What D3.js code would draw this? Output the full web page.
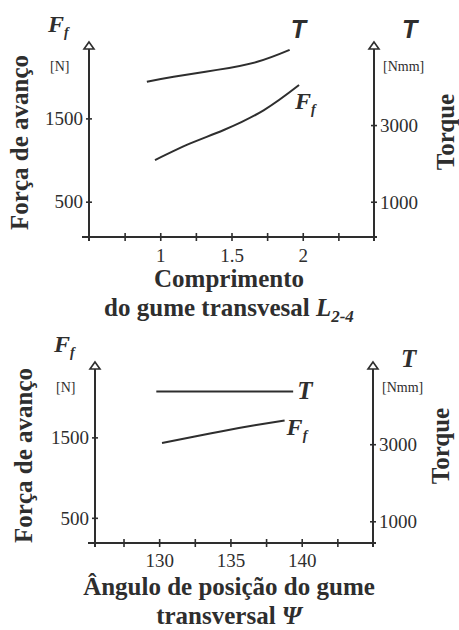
<!DOCTYPE html>
<html>
<head>
  <meta charset="utf-8">
  <script src="https://cdn.jsdelivr.net/npm/d3@7"></script>
  <style type="text/css">
    body { margin: 0; background: #fff; }
    svg { display: block; }
    text { font-family: "Liberation Serif", "Times New Roman", serif; }
    .tick text { font-size: 19px; fill: #2e2e2e; font-family: "Liberation Serif", "Times New Roman", serif; }
    .title { font-weight: bold; font-size: 25px; fill: #2e2e2e; }
    .unit { font-size: 14px; fill: #2e2e2e; }
    .sym { font-weight: bold; font-style: italic; fill: #2e2e2e; }
  </style>
</head>
<body>
<script type="text/javascript">

// panel 1 - comprimento do gume transversal
const lengthTicks = [1, 1.5, 2];
const lengthMinor = [0.75, 1.25, 1.75, 2.25];
const lengthT_x = [0.906, 1.094, 1.399, 1.681, 1.908];
const lengthT_y = [4130, 4260, 4440, 4650, 4960];
const lengthF_x = [0.963, 1.211, 1.446, 1.728, 1.974];
const lengthF_y = [1000, 1200, 1360, 1600, 1900];

// panel 2 - angulo de posicao
const angleTicks = [130, 135, 140];
const angleMinor = [127.5, 132.5, 137.5, 142.5];
const angleT_x = [129.8, 139.4];
const angleT_y = [4370, 4370];
const angleF_x = [130.2, 132.5, 134.5, 136.7, 138.8];
const angleF_y = [1430, 1510, 1580, 1650, 1710];

const forceTicks = [500, 1500];
const torqueTicks = [1000, 3000];

const ink = '#2e2e2e';
const svg = d3.select('body').append('svg')
  .attr('width', 459)
  .attr('height', 630);

function drawPanel(cfg) {
  const x = d3.scaleLinear().domain(cfg.xDomain).range([cfg.left, cfg.right]);
  const yF = d3.scaleLinear().domain(cfg.forceDomain).range([cfg.bottom, cfg.top]);
  const yT = d3.scaleLinear().domain(cfg.torqueDomain).range([cfg.bottom, cfg.top]);
  const g = svg.append('g');
  const fmt = d3.format('');

  // x axis: ticks crossing the line, labels only on the major ones
  const xa = g.append('g')
    .attr('transform', `translate(0,${cfg.bottom})`)
    .call(d3.axisBottom(x)
      .tickValues(cfg.xTicks.concat(cfg.xMinor))
      .tickFormat(d => cfg.xTicks.includes(d) ? fmt(d) : ''));
  xa.select('.domain').remove();
  xa.selectAll('.tick line').attr('y1', -4).attr('y2', 4).attr('stroke', ink).attr('stroke-width', 1.6);
  xa.selectAll('.tick text').attr('y', cfg.xLabelDy).attr('dy', 0);
  g.append('line')
    .attr('x1', cfg.left - 7).attr('x2', cfg.right + 3)
    .attr('y1', cfg.bottom).attr('y2', cfg.bottom)
    .attr('stroke', ink).attr('stroke-width', 2);

  // left (force) and right (torque) axes
  const la = g.append('g').attr('transform', `translate(${cfg.left},0)`)
    .call(d3.axisLeft(yF).tickValues(forceTicks).tickFormat(fmt));
  const ra = g.append('g').attr('transform', `translate(${cfg.right},0)`)
    .call(d3.axisRight(yT).tickValues(torqueTicks).tickFormat(fmt));
  [la, ra].forEach(a => {
    a.select('.domain').remove();
    a.selectAll('.tick line').attr('x1', -3).attr('x2', 3).attr('stroke', ink).attr('stroke-width', 1.6);
  });
  la.selectAll('.tick text').attr('x', -6).attr('dy', '0.33em');
  ra.selectAll('.tick text').attr('x', 6).attr('dy', '0.33em');

  [cfg.left, cfg.right].forEach(ax => {
    g.append('line')
      .attr('x1', ax).attr('x2', ax)
      .attr('y1', cfg.top + 7).attr('y2', cfg.bottom + 4)
      .attr('stroke', ink).attr('stroke-width', 2);
    g.append('path')
      .attr('d', `M${ax},${cfg.top} L${ax + 5},${cfg.top + 7} L${ax - 5},${cfg.top + 7} Z`)
      .attr('fill', '#fff').attr('stroke', ink).attr('stroke-width', 1.6);
  });

  // curves
  const lineT = d3.line().x(d => x(d[0])).y(d => yT(d[1])).curve(d3.curveNatural);
  const lineF = d3.line().x(d => x(d[0])).y(d => yF(d[1])).curve(d3.curveNatural);
  const tData = d3.zip(cfg.tx, cfg.ty);
  const fData = d3.zip(cfg.fx, cfg.fy);
  g.append('path').attr('d', lineT(tData)).attr('fill', 'none').attr('stroke', ink).attr('stroke-width', 2);
  g.append('path').attr('d', lineF(fData)).attr('fill', 'none').attr('stroke', ink).attr('stroke-width', 2);

  const tEnd = tData[tData.length - 1];
  const fEnd = fData[fData.length - 1];
  g.append('text').attr('class', 'sym')
    .attr('x', x(tEnd[0]) + cfg.tLabel[0]).attr('y', yT(tEnd[1]) + cfg.tLabel[1])
    .style('font-family', cfg.tFont).style('font-size', '25px').text('T');
  const ff = g.append('text').attr('class', 'sym')
    .attr('x', x(fEnd[0]) + cfg.fLabel[0]).attr('y', yF(fEnd[1]) + cfg.fLabel[1])
    .style('font-size', '24px');
  ff.append('tspan').text('F');
  ff.append('tspan').attr('dy', 5).style('font-size', '14px').text('f');

  // axis symbols and units
  const fs = g.append('text').attr('class', 'sym')
    .attr('x', cfg.left - 41).attr('y', cfg.top - 10).style('font-size', '24px');
  fs.append('tspan').text('F');
  fs.append('tspan').attr('dy', 5).style('font-size', '14px').text('f');
  g.append('text').attr('class', 'unit')
    .attr('x', cfg.left - 39).attr('y', cfg.top + cfg.unitDy).text('[N]');
  g.append('text').attr('class', 'sym')
    .attr('x', cfg.right + 28).attr('y', cfg.top + cfg.tTopDy)
    .style('font-family', cfg.tFont).style('font-size', '25px').text('T');
  g.append('text').attr('class', 'unit')
    .attr('x', cfg.right + 9).attr('y', cfg.top + cfg.unitDy).text('[Nmm]');

  // titles
  const mid = (cfg.top + cfg.bottom) / 2;
  g.append('text').attr('class', 'title')
    .attr('transform', `translate(${cfg.leftTitleX},${mid + 3}) rotate(-90)`)
    .attr('text-anchor', 'middle').text('Força de avanço');
  g.append('text').attr('class', 'title')
    .attr('transform', `translate(${cfg.rightTitleX},${cfg.torqueTitleY}) rotate(-90)`)
    .attr('text-anchor', 'middle').text('Torque');

  cfg.xTitle.forEach((line, i) => {
    const t = g.append('text').attr('class', 'title')
      .attr('x', 229).attr('y', cfg.bottom + cfg.xTitleDy + i * 29)
      .attr('text-anchor', 'middle');
    line.forEach(part => {
      const s = t.append('tspan').text(part.text);
      if (part.italic) s.style('font-style', 'italic');
      if (part.sub) s.attr('dy', 6).style('font-size', '17px');
    });
  });
}

drawPanel({
  left: 89, right: 374, top: 42, bottom: 237,
  xDomain: [0.5, 2.5], xTicks: lengthTicks, xMinor: lengthMinor, xLabelDy: 25,
  forceDomain: [76, 2417], torqueDomain: [80, 5167],
  tx: lengthT_x, ty: lengthT_y, fx: lengthF_x, fy: lengthF_y,
  tFont: '"Liberation Sans", Arial, sans-serif',
  tLabel: [1, -12], fLabel: [-4, 24],
  unitDy: 29, tTopDy: -4,
  leftTitleX: 28, rightTitleX: 454, torqueTitleY: 132,
  xTitleDy: 50,
  xTitle: [
    [{text: 'Comprimento'}],
    [{text: 'do gume transvesal '}, {text: 'L', italic: true}, {text: '2-4', italic: true, sub: true}]
  ]
});

drawPanel({
  left: 95, right: 373, top: 362, bottom: 543,
  xDomain: [125.5, 145], xTicks: angleTicks, xMinor: angleMinor, xLabelDy: 24,
  forceDomain: [187, 2437], torqueDomain: [436, 5134],
  tx: angleT_x, ty: angleT_y, fx: angleF_x, fy: angleF_y,
  tFont: '"Liberation Serif", "Times New Roman", serif',
  tLabel: [4, 8], fLabel: [2, 15],
  unitDy: 30, tTopDy: 5,
  leftTitleX: 32, rightTitleX: 449, torqueTitleY: 446,
  xTitleDy: 52,
  xTitle: [
    [{text: 'Ângulo de posição do gume'}],
    [{text: 'transversal '}, {text: 'Ψ', italic: true}]
  ]
});

</script>
</body>
</html>
